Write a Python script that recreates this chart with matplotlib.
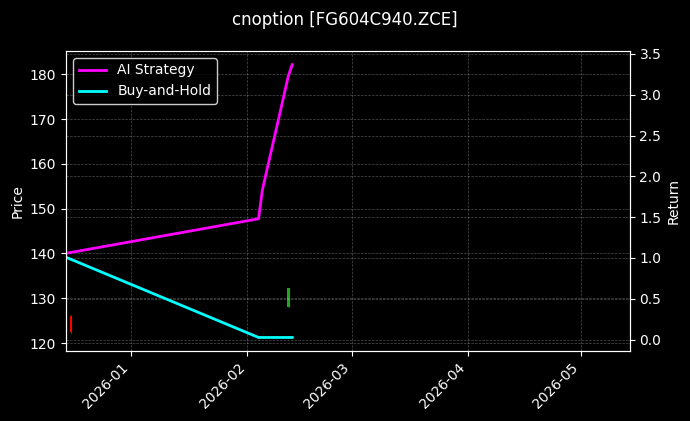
import pandas as pd
import matplotlib.pyplot as plt
import matplotlib.dates as mdates

# Candles (price axis)
candle_dates = pd.to_datetime(['2025-12-16', '2026-02-12'])
candle_open = [126.0, 128.1]
candle_close = [122.5, 132.2]
candle_high = [126.3, 132.2]
candle_low = [122.2, 128.0]

# Return curves (right axis)
ret_dates = pd.to_datetime(['2025-12-15', '2026-02-04', '2026-02-05', '2026-02-12', '2026-02-13'])
ai_strategy = [1.06, 1.48, 1.83, 3.24, 3.37]
buy_and_hold = [1.0, 0.025, 0.025, 0.025, 0.025]

plt.style.use('dark_background')

fig = plt.figure(figsize=(6.9, 4.21), dpi=100)
ax = fig.add_axes([0.0957, 0.166, 0.817, 0.713])

# Candlesticks
for d, o, c, h, l in zip(candle_dates, candle_open, candle_close, candle_high, candle_low):
    color = 'red' if c < o else '#1fa81f'
    ax.vlines(d, l, h, color=color, linewidth=0.8)
    ax.bar(d, abs(c - o), bottom=min(o, c), width=0.6, color=color)

ax.set_ylim(118.2, 185.2)
ax.set_xlim(pd.Timestamp('2025-12-14 14:00'), pd.Timestamp('2026-05-14 03:00'))
ax.set_ylabel('Price')
ax.grid(True, linestyle='--', linewidth=0.5, alpha=0.3)

ax.xaxis.set_major_locator(mdates.MonthLocator())
ax.xaxis.set_major_formatter(mdates.DateFormatter('%Y-%m'))
plt.setp(ax.get_xticklabels(), rotation=45, ha='right')

ax2 = ax.twinx()
ax2.plot(ret_dates, ai_strategy, color='#ff00ff', linewidth=2, label='AI Strategy')
ax2.plot(ret_dates, buy_and_hold, color='#00ffff', linewidth=2, label='Buy-and-Hold')
ax2.set_ylabel('Return')
ax2.grid(True, linestyle='--', linewidth=0.5, alpha=0.3)
ax2.legend(loc='upper left', facecolor='black', edgecolor='white')

fig.suptitle('cnoption [FG604C940.ZCE]', fontsize=12, y=0.975)

fig.savefig('out.png', dpi=100)
